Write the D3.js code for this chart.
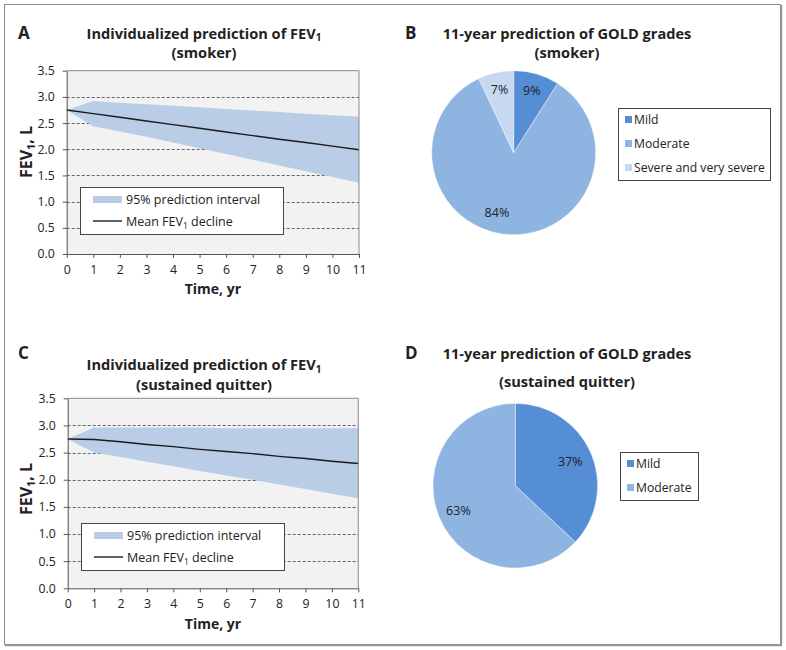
<!DOCTYPE html>
<html><head><meta charset="utf-8">
<script src="https://cdn.jsdelivr.net/npm/d3@7"></script>
<style>body{margin:0;background:#fff}svg{display:block;font-family:"Open Sans",sans-serif}</style>
</head><body><svg id="c" width="786" height="650"></svg>
<script>
// ---- data ----
const years = [0,1,2,3,4,5,6,7,8,9,10,11];
const yTicks = [0,0.5,1.0,1.5,2.0,2.5,3.0,3.5];
const smokerUpper = [2.75,2.92,2.89,2.86,2.83,2.80,2.77,2.74,2.71,2.68,2.65,2.62];
const smokerLower = [2.75,2.44,2.34,2.24,2.13,2.02,1.91,1.80,1.69,1.58,1.47,1.36];
const smokerMean  = [2.75,2.68,2.61,2.54,2.47,2.40,2.33,2.26,2.19,2.13,2.06,1.99];
const quitUpper = [2.75,2.96,2.96,2.96,2.96,2.96,2.95,2.95,2.95,2.95,2.95,2.95];
const quitLower = [2.75,2.50,2.42,2.33,2.25,2.16,2.08,2.00,1.91,1.83,1.74,1.66];
const quitMean  = [2.75,2.74,2.70,2.65,2.61,2.56,2.52,2.48,2.43,2.39,2.34,2.30];
const gradesB = ["Mild","Moderate","Severe and very severe"];
const valuesB = [9,84,7];
const gradesD = ["Mild","Moderate"];
const valuesD = [37,63];

const colBand = "#b9cde6";
const pieColors = {"Mild":"#558ed5","Moderate":"#8eb4e2","Severe and very severe":"#c6d9f1"};
const TF = 14.6; // title font size

const svg = d3.select("#c");
svg.append("rect").attr("x",4.5).attr("y",4.5).attr("width",776).attr("height",640)
  .attr("fill","none").attr("stroke","#8c8c8c").attr("stroke-width",1);
svg.append("line").attr("x1",781.5).attr("x2",781.5).attr("y1",5).attr("y2",645.5).attr("stroke","#9a9a9a").attr("stroke-width",1.5);
svg.append("line").attr("x1",5).attr("x2",782).attr("y1",645.5).attr("y2",645.5).attr("stroke","#9a9a9a").attr("stroke-width",1.5);

function fevText(sel, pre, post, size){
  sel.append("tspan").text(pre);
  sel.append("tspan").attr("font-size",size*0.68).attr("dy",size*0.2).text("1");
  sel.append("tspan").attr("dy",-size*0.2).text(post);
}

function linePanel(o){
  const g = svg.append("g");
  const x = d3.scaleLinear().domain([0,11]).range([o.x0,o.x1]);
  const y = d3.scaleLinear().domain([0,3.5]).range([o.y0,o.y1]);
  g.append("text").attr("x",18).attr("y",o.letterY).attr("font-size",17).attr("font-weight","bold").attr("fill","#222").text(o.letter);
  const t1 = g.append("text").attr("x",o.titleX).attr("y",o.t1y).attr("text-anchor","middle").attr("font-size",TF).attr("font-weight","bold").attr("fill","#222");
  fevText(t1,"Individualized prediction of FEV","",TF);
  g.append("text").attr("x",o.titleX).attr("y",o.t2y).attr("text-anchor","middle").attr("font-size",TF).attr("font-weight","bold").attr("fill","#222").text(o.sub);
  g.append("rect").attr("x",x(0)).attr("y",y(3.5)).attr("width",x(11)-x(0)).attr("height",y(0)-y(3.5)).attr("fill","#f2f2f2");
  g.selectAll(".grid").data(yTicks.filter(d=>d>0&&d<3.5)).join("line")
    .attr("x1",x(0)).attr("x2",x(11)).attr("y1",d=>Math.round(y(d))+0.5).attr("y2",d=>Math.round(y(d))+0.5)
    .attr("stroke","#555").attr("stroke-width",0.9).attr("stroke-dasharray","3,2");
  const idx = years.map((d,i)=>i);
  g.append("path").datum(idx).attr("fill",colBand)
    .attr("d",d3.area().x(i=>x(years[i])).y0(i=>y(o.lower[i])).y1(i=>y(o.upper[i])));
  g.append("path").datum(idx).attr("fill","none").attr("stroke","#1a1a1a").attr("stroke-width",1.4)
    .attr("d",d3.line().x(i=>x(years[i])).y(i=>y(o.mean[i])));
  g.append("path").attr("d",`M${x(0)},${y(3.5)}H${x(11)}V${y(0)}`).attr("fill","none").attr("stroke","#8a8a8a").attr("stroke-width",1);
  const ya = g.append("g").attr("transform",`translate(${x(0)},0)`)
    .call(d3.axisLeft(y).tickValues(yTicks).tickFormat(d3.format(".1f")).tickSize(4).tickSizeOuter(0));
  const xa = g.append("g").attr("transform",`translate(0,${y(0)})`)
    .call(d3.axisBottom(x).tickValues(years).tickSize(4).tickSizeOuter(0));
  [ya,xa].forEach(a=>{
    a.select(".domain").attr("stroke","#555");
    a.selectAll(".tick line").attr("stroke","#555");
    a.selectAll("text").attr("font-size",12.3).attr("font-family","Open Sans").attr("fill","#222");
  });
  ya.selectAll("text").attr("x",-12);
  xa.selectAll("text").attr("y",11);
  g.append("text").attr("x",(x(0)+x(11))/2).attr("y",o.xtY).attr("text-anchor","middle").attr("font-size",14).attr("font-weight","bold").attr("fill","#222").text("Time, yr");
  const yt = g.append("text").attr("transform",`translate(${o.ytX},${o.ytY}) rotate(-90)`).attr("text-anchor","middle").attr("font-size",16).attr("font-weight","bold").attr("fill","#222");
  fevText(yt,"FEV",", L",16);
  const L = o.leg;
  g.append("rect").attr("x",L.x+0.5).attr("y",L.y+0.5).attr("width",L.w).attr("height",L.h).attr("fill","#fff").attr("stroke","#444").attr("stroke-width",1);
  g.append("rect").attr("x",L.x+13).attr("y",L.y+9).attr("width",29).attr("height",7).attr("fill",colBand);
  g.append("line").attr("x1",L.x+13).attr("x2",L.x+42).attr("y1",L.y+34).attr("y2",L.y+34).attr("stroke","#1a1a1a").attr("stroke-width",1.4);
  g.append("text").attr("x",L.x+46).attr("y",L.y+17).attr("font-size",12.5).attr("fill","#222").text("95% prediction interval");
  const lt = g.append("text").attr("x",L.x+46).attr("y",L.y+39).attr("font-size",12.5).attr("fill","#222");
  fevText(lt,"Mean FEV"," decline",12.5);
}

function piePanel(o){
  const g = svg.append("g");
  g.append("text").attr("x",405).attr("y",o.letterY).attr("font-size",17).attr("font-weight","bold").attr("fill","#222").text(o.letter);
  g.append("text").attr("x",o.titleX).attr("y",o.t1y).attr("text-anchor","middle").attr("font-size",TF).attr("font-weight","bold").attr("fill","#222").text("11-year prediction of GOLD grades");
  g.append("text").attr("x",o.titleX).attr("y",o.t2y).attr("text-anchor","middle").attr("font-size",TF).attr("font-weight","bold").attr("fill","#222").text(o.sub);
  const data = o.names.map((n,i)=>({name:n,value:o.values[i]}));
  const arcs = d3.pie().sort(null).value(d=>d.value)(data);
  const arc = d3.arc().innerRadius(0).outerRadius(o.r);
  const pg = g.append("g").attr("transform",`translate(${o.cx},${o.cy})`);
  pg.selectAll("path").data(arcs).join("path").attr("d",arc).attr("fill",d=>pieColors[d.data.name]).attr("stroke","#fff").attr("stroke-width",0.4);
  pg.selectAll("text").data(arcs).join("text")
    .attr("transform",(d,i)=>{const [a,b]=d3.arc().innerRadius(o.lr[i]).outerRadius(o.lr[i]).centroid(d);return `translate(${a+o.ldx[i]},${b})`;})
    .attr("text-anchor","middle").attr("dy","0.35em").attr("font-size",12.5).attr("fill","#222")
    .text(d=>d.data.value+"%");
  const L = o.leg;
  g.append("rect").attr("x",L.x+0.5).attr("y",L.y+0.5).attr("width",L.w).attr("height",L.h).attr("fill","#fff").attr("stroke","#444").attr("stroke-width",1);
  o.names.forEach((n,i)=>{
    const yy = L.y+11.5+i*24;
    g.append("rect").attr("x",L.x+7).attr("y",yy-3.5).attr("width",7).attr("height",7).attr("fill",pieColors[n]);
    g.append("text").attr("x",L.x+16).attr("y",yy).attr("dy","0.35em").attr("font-size",12.2).attr("fill","#222").text(n);
  });
}

linePanel({letter:"A",letterY:39,titleX:204,t1y:38.5,t2y:57.5,sub:"(smoker)",x0:66.7,x1:359,y0:254,y1:70.7,xtY:294,ytX:32,ytY:152,
  upper:smokerUpper,lower:smokerLower,mean:smokerMean,leg:{x:80,y:187,w:203,h:47}});
linePanel({letter:"C",letterY:359,titleX:204,t1y:370,t2y:389.5,sub:"(sustained quitter)",x0:67.7,x1:358.3,y0:588.3,y1:398.3,xtY:629,ytX:32,ytY:489,
  upper:quitUpper,lower:quitLower,mean:quitMean,leg:{x:81,y:523,w:203,h:47}});
piePanel({letter:"B",letterY:39,titleX:567,t1y:38.5,t2y:57.5,sub:"(smoker)",cx:513.7,cy:152.7,r:82,lr:[65,60,65],ldx:[0,-13,0],
  names:gradesB,values:valuesB,leg:{x:618,y:108,w:152,h:72}});
piePanel({letter:"D",letterY:359,titleX:567,t1y:358.5,t2y:387,sub:"(sustained quitter)",cx:515.3,cy:485.7,r:82.3,lr:[60,62],ldx:[0,0],
  names:gradesD,values:valuesD,leg:{x:620,y:452,w:78,h:48}});
</script></body></html>
